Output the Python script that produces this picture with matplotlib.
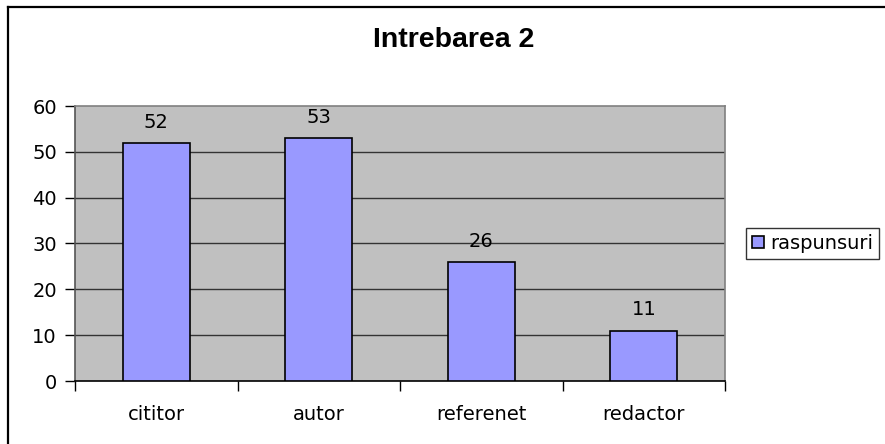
import matplotlib
matplotlib.use("Agg")
import matplotlib.pyplot as plt
from matplotlib.lines import Line2D

categories = ["cititor", "autor", "referenet", "redactor"]
values = [52, 53, 26, 11]
series_name = "raspunsuri"
title = "Intrebarea 2"
yticks = [0, 10, 20, 30, 40, 50, 60]

W, H = 885, 444
plt.rcParams['font.family'] = ['DejaVu Sans']
fig = plt.figure(figsize=(W/100, H/100), dpi=100)
FS = 14

# outer chart border (extends beyond right/bottom edges)
fig.add_artist(Line2D([8/W, 8/W], [1 - 7/H, -0.1], transform=fig.transFigure, color='black', lw=1.6))
fig.add_artist(Line2D([8/W, 1.1], [1 - 7/H, 1 - 7/H], transform=fig.transFigure, color='black', lw=1.6))

l, r, t, b = 75, 725, 106, 381
ax = fig.add_axes([l/W, 1 - b/H, (r-l)/W, (b-t)/H])
ax.set_facecolor('#C0C0C0')
x = list(range(len(categories)))
bars = ax.bar(x, values, width=0.41, color='#9999FF', edgecolor='black', linewidth=1.2, zorder=3, label=series_name)
ax.set_xlim(-0.5, len(categories) - 0.5)
ax.set_ylim(0, 60)
ax.set_yticks(yticks)
ax.set_yticklabels([str(v) for v in yticks], fontsize=FS)
for yv in yticks[1:-1]:
    ax.axhline(yv, color='#333333', lw=1.0, zorder=1)
ax.set_xticks(x)
ax.set_xticklabels(categories, fontsize=FS)
ax.tick_params(axis='x', length=0, pad=17)
ax.set_xticks([i - 0.5 for i in range(len(categories) + 1)], minor=True)
ax.tick_params(axis='x', which='minor', length=7, width=1, color='black', direction='out')
ax.tick_params(axis='y', length=7, width=1, color='black', direction='out', pad=6)
ax.spines['left'].set_color('#555555')
ax.spines['bottom'].set_color('black')
ax.spines['top'].set_color('#808080')
ax.spines['right'].set_color('#808080')
for s in ax.spines.values():
    s.set_linewidth(1.2)

for xi, v in zip(x, values):
    ax.annotate(str(v), (xi, v), xytext=(0, 8), textcoords='offset points', ha='center', va='bottom', fontsize=FS)

fig.text(454/W, 1 - 40/H, title, ha='center', va='center', fontsize=20.5,
         fontweight='bold', family=['Liberation Sans', 'DejaVu Sans'])

leg = fig.legend(handles=[bars], labels=[series_name], loc='center left',
                 bbox_to_anchor=(746/W, 1 - 243.5/H), fontsize=FS, frameon=True,
                 fancybox=False, edgecolor='black', handlelength=0.6, handleheight=0.6,
                 handletextpad=0.35, borderpad=0.3, borderaxespad=0)
leg.get_frame().set_linewidth(1.0)

fig.savefig("out.png", dpi=100)
